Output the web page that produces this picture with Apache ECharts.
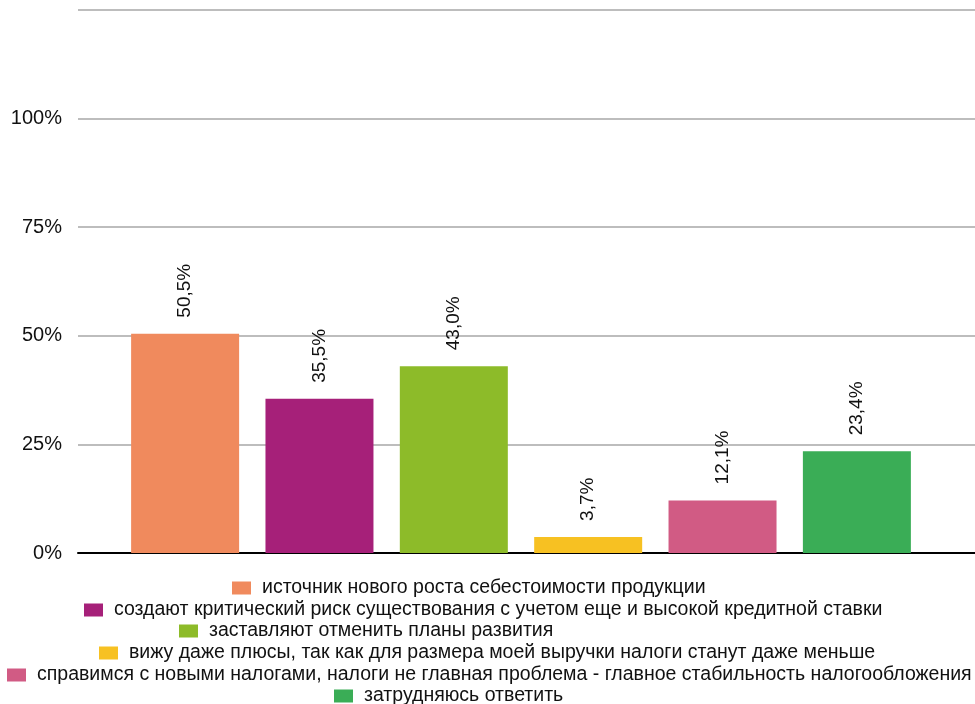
<!DOCTYPE html>
<html><head><meta charset="utf-8">
<script src="https://cdn.jsdelivr.net/npm/echarts@6/dist/echarts.min.js"></script>
<style>html,body{margin:0;padding:0;background:#fff}#c{width:975px;height:704px}</style>
</head><body><div id="c"></div>
<script>
const seriesNames = [
  'источник нового роста себестоимости продукции',
  'создают критический риск существования с учетом еще и высокой кредитной ставки',
  'заставляют отменить планы развития',
  'вижу даже плюсы, так как для размера моей выручки налоги станут даже меньше',
  'справимся с новыми налогами, налоги не главная проблема - главное стабильность налогообложения',
  'затрудняюсь ответить'
];
const seriesValues = [50.5, 35.5, 43.0, 3.7, 12.1, 23.4];
const seriesColors = ['#F08A5D', '#A62079', '#8DBB29', '#F7C122', '#D15B84', '#3AAD56'];
const yTicks = [0, 25, 50, 75, 100, 125];

const FONT = 'Liberation Sans, Arial, sans-serif';
const chart = echarts.init(document.getElementById('c'), null, {renderer: 'canvas'});

// legend layout (positions of each legend row)
const legendLayout = [
  {left: 232, top: 578}, {left: 84, top: 600}, {left: 179, top: 621},
  {left: 99, top: 643}, {left: 7, top: 665}, {left: 334, top: 686}
];
const legends = seriesNames.map((n, i) => ({
  data: [n], left: legendLayout[i].left, top: legendLayout[i].top, itemWidth: 19, itemHeight: 13,
  icon: 'rect', itemGap: 0, padding: 0,
  textStyle: {fontFamily: FONT, fontSize: 19.5, color: '#111', padding: [0, 0, 0, 6]},
  selectedMode: false
}));

chart.setOption({
  animation: false,
  backgroundColor: '#fff',
  grid: [
    {left: 78, right: 0, top: 10, bottom: 151},
    {left: 78, right: 11, top: 10, bottom: 151}
  ],
  legend: legends,
  xAxis: [
    {gridIndex: 0, type: 'category', data: [''], axisLine: {show: true, lineStyle: {color: '#000', width: 2}}, axisTick: {show: false}, axisLabel: {show: false}},
    {gridIndex: 1, type: 'category', data: [''], axisLine: {show: false}, axisTick: {show: false}, axisLabel: {show: false}}
  ],
  yAxis: [
    {gridIndex: 0, type: 'value', min: yTicks[0], max: yTicks[yTicks.length - 1], interval: 25,
     axisLine: {show: false}, axisTick: {show: false},
     splitLine: {lineStyle: {color: '#BDBDBD', width: 2}},
     axisLabel: {fontFamily: FONT, fontSize: 20, color: '#111', margin: 16,
       formatter: v => v >= 125 ? '' : v + '%'}},
    {gridIndex: 1, type: 'value', min: yTicks[0], max: yTicks[yTicks.length - 1], interval: 25,
     show: false, splitLine: {show: false}}
  ],
  series: seriesNames.map((n, i) => ({
    name: n, type: 'bar', xAxisIndex: 1, yAxisIndex: 1,
    data: [seriesValues[i]], barWidth: 108, barGap: '24.4%',
    itemStyle: {color: seriesColors[i]},
    label: {show: true, position: 'top', rotate: 90, align: 'left', verticalAlign: 'middle',
      distance: 16, fontFamily: FONT, fontSize: 19, color: '#111',
      formatter: p => p.value.toFixed(1).replace('.', ',') + '%'}
  }))
});
</script></body></html>
